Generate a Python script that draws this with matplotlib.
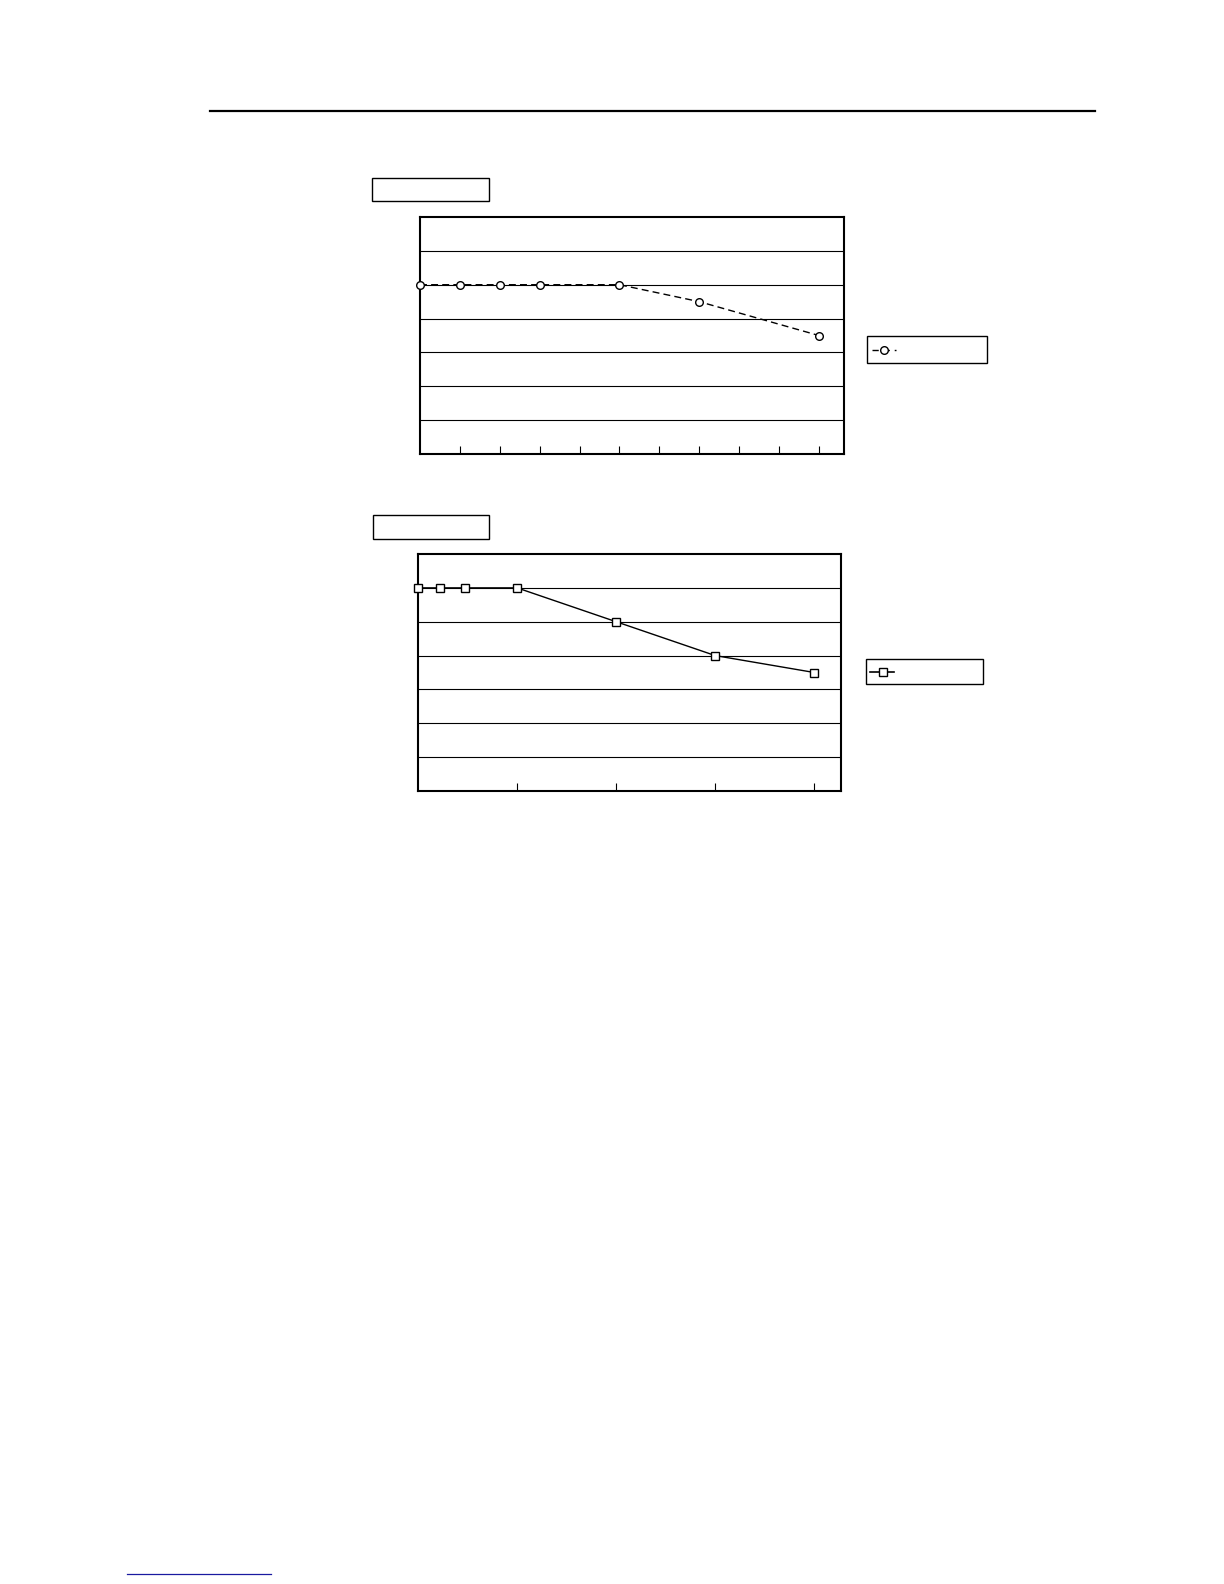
import matplotlib
matplotlib.use('Agg')
import matplotlib.pyplot as plt
from matplotlib.lines import Line2D
from matplotlib.patches import Rectangle

W, H = 1224, 1584

# top chart: dashed series with circles
top_x = [0, 1, 2, 3, 5, 7, 10]
top_y = [5, 5, 5, 5, 5, 4.5, 3.5]
top_ticks = list(range(1, 11))
top_xmax = 10.63

# bottom chart: solid series with squares
bot_x = [0, 0.22, 0.47, 1, 2, 3, 4]
bot_y = [6, 6, 6, 6, 5, 4, 3.5]
bot_ticks = [1, 2, 3, 4]
bot_xmax = 4.27

grid_levels = [1, 2, 3, 4, 5, 6]
ymax = 7


def fx(px):
    return px / W


def fy(py):
    return 1 - py / H


def add_box(fig, x0, y0, x1, y1, lw=1.0):
    fig.add_artist(Rectangle((fx(x0), fy(y1)), fx(x1) - fx(x0), fy(y0) - fy(y1),
                             transform=fig.transFigure, fill=False,
                             edgecolor='black', linewidth=lw))


def setup_axes(ax, ticks, xmax):
    ax.set_xlim(0, xmax)
    ax.set_ylim(0, ymax)
    ax.set_xticks(ticks)
    ax.set_xticklabels([])
    ax.set_yticks(grid_levels)
    ax.set_yticklabels([])
    ax.tick_params(axis='x', direction='in', length=6, width=0.8, top=False)
    ax.tick_params(axis='y', length=0)
    ax.yaxis.grid(True, color='black', linewidth=0.8)
    ax.set_axisbelow(True)
    for s in ax.spines.values():
        s.set_linewidth(1.5)


fig = plt.figure(figsize=(W / 100, H / 100), dpi=100)

# header rule
fig.add_artist(Line2D([fx(210), fx(1095)], [fy(111), fy(111)],
                      transform=fig.transFigure, color='black', linewidth=1.6))
# footer link rule
fig.add_artist(Line2D([fx(127), fx(271)], [fy(1574), fy(1574)],
                      transform=fig.transFigure, color='#1a1aa0', linewidth=0.9))

ax1 = fig.add_axes([fx(420), fy(454), fx(844) - fx(420), fy(217) - fy(454)])
setup_axes(ax1, top_ticks, top_xmax)
ax1.plot(top_x, top_y, color='black', linewidth=1.0, linestyle=(0, (5, 3)),
         marker='o', markersize=5.5, markerfacecolor='white',
         markeredgecolor='black', markeredgewidth=1.0, clip_on=False, zorder=3)

ax2 = fig.add_axes([fx(418), fy(791), fx(841) - fx(418), fy(554) - fy(791)])
setup_axes(ax2, bot_ticks, bot_xmax)
ax2.plot(bot_x, bot_y, color='black', linewidth=1.0, linestyle='-',
         marker='s', markersize=5.5, markerfacecolor='white',
         markeredgecolor='black', markeredgewidth=1.0, clip_on=False, zorder=3)

# title boxes (text not shown in reference)
add_box(fig, 372, 178, 489, 201)
add_box(fig, 373, 515, 489, 539)

# legend boxes with sample handles
add_box(fig, 867, 336, 987, 363)
fig.add_artist(Line2D([fx(872), fx(896)], [fy(350), fy(350)], transform=fig.transFigure,
                      color='black', linewidth=1.0, linestyle=(0, (4.5, 3.5))))
fig.add_artist(Line2D([fx(884)], [fy(350)], transform=fig.transFigure, marker='o',
                      markersize=5.5, markerfacecolor='white', markeredgecolor='black',
                      markeredgewidth=1.0, linestyle='none'))

add_box(fig, 866, 659, 983, 684)
fig.add_artist(Line2D([fx(870), fx(894)], [fy(672), fy(672)], transform=fig.transFigure,
                      color='black', linewidth=1.2))
fig.add_artist(Line2D([fx(883)], [fy(672)], transform=fig.transFigure, marker='s',
                      markersize=5.5, markerfacecolor='white', markeredgecolor='black',
                      markeredgewidth=1.0, linestyle='none'))

fig.savefig('out.png', dpi=100)
